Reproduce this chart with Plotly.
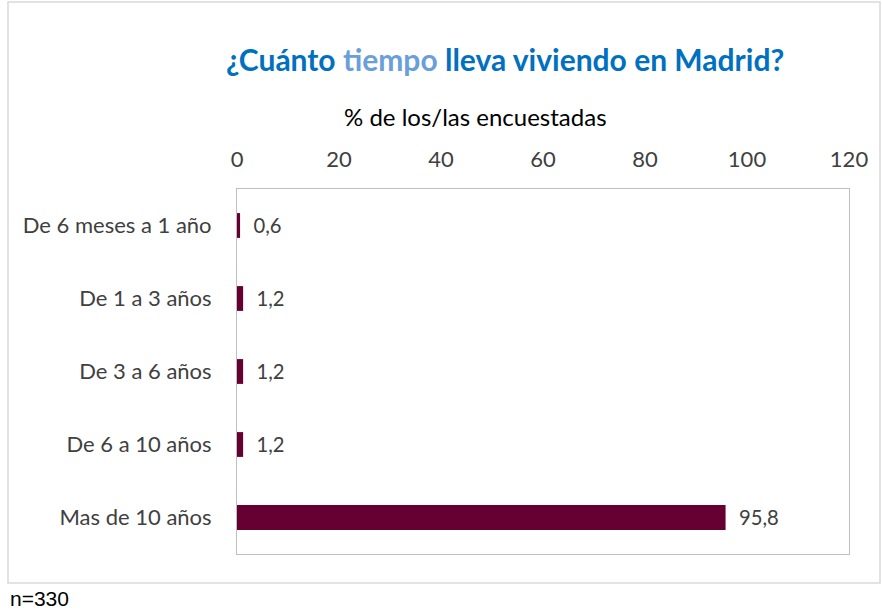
"""
Horizontal bar chart: time living in Madrid.
"""
import plotly.graph_objects as go

categories = ["De 6 meses a 1 año", "De 1 a 3 años", "De 3 a 6 años",
              "De 6 a 10 años", "Mas de 10 años"]
values = [0.6, 1.2, 1.2, 1.2, 95.8]
value_labels = ["0,6", "1,2", "1,2", "1,2", "95,8"]
x_ticks = [0, 20, 40, 60, 80, 100, 120]

BAR_COLOR = "#660033"
TEXT_GRAY = "#404040"
FONT = "Lato, 'Open Sans', sans-serif"

W, H = 882, 612
L, R, T, B = 237, 33, 189, 58
PW, PH = W - L - R, H - T - B


def px_x(x):
    return (x - L) / PW


def px_y(y):
    return (H - B - y) / PH


# small gap between bar end and its label
PAD = "\u00a0\u00a0"

fig = go.Figure()
fig.add_trace(
    go.Bar(
        y=categories,
        x=values,
        orientation="h",
        width=0.34,
        marker=dict(color=BAR_COLOR, line=dict(width=0)),
        text=[PAD + t for t in value_labels],
        textposition="outside",
        textfont=dict(size=22, color=TEXT_GRAY, family=FONT),
        cliponaxis=False,
        hoverinfo="x+y",
    )
)

fig.update_layout(
    width=W,
    height=H,
    margin=dict(l=L, r=R, t=T, b=B),
    paper_bgcolor="white",
    plot_bgcolor="white",
    showlegend=False,
    font=dict(family=FONT, size=22, color=TEXT_GRAY),
    xaxis=dict(
        range=[0, 120],
        tickvals=x_ticks,
        ticktext=[str(t) for t in x_ticks],
        side="top",
        showgrid=False,
        zeroline=False,
        showline=True,
        mirror=True,
        linecolor="#BFBFBF",
        linewidth=1,
        ticks="",
        ticklabelstandoff=12,
        tickfont=dict(size=22, color=TEXT_GRAY),
    ),
    yaxis=dict(
        categoryorder="array",
        categoryarray=categories[::-1],
        showgrid=False,
        zeroline=False,
        showline=True,
        mirror=True,
        linecolor="#BFBFBF",
        linewidth=1,
        ticks="",
        ticklabelstandoff=20,
        tickfont=dict(size=22, color=TEXT_GRAY),
    ),
    shapes=[
        dict(type="rect", xref="paper", yref="paper",
             x0=px_x(8), x1=px_x(880), y0=px_y(583), y1=px_y(2),
             line=dict(color="#D9D9D9", width=1.5), layer="below"),
    ],
    annotations=[
        dict(
            text="<b>¿Cuánto <span style='color:#6A9FDA'>tiempo</span> lleva viviendo en Madrid?</b>",
            xref="paper", yref="paper", x=px_x(505), y=px_y(59),
            xanchor="center", yanchor="middle", showarrow=False,
            font=dict(size=30, color="#0070C0", family=FONT),
        ),
        dict(
            text="% de los/las encuestadas",
            xref="paper", yref="paper", x=px_x(475), y=px_y(117),
            xanchor="center", yanchor="middle", showarrow=False,
            font=dict(size=24, color="#000000", family=FONT),
        ),
        dict(
            text="n=330",
            xref="paper", yref="paper", x=px_x(8), y=px_y(598),
            xanchor="left", yanchor="middle", showarrow=False,
            font=dict(size=21, color="#000000", family="Liberation Sans, Arial, sans-serif"),
        ),
    ],
)

fig.write_html(
    "out.html",
    config={"displayModeBar": False},
    post_script="document.body.style.margin='0';",
)
